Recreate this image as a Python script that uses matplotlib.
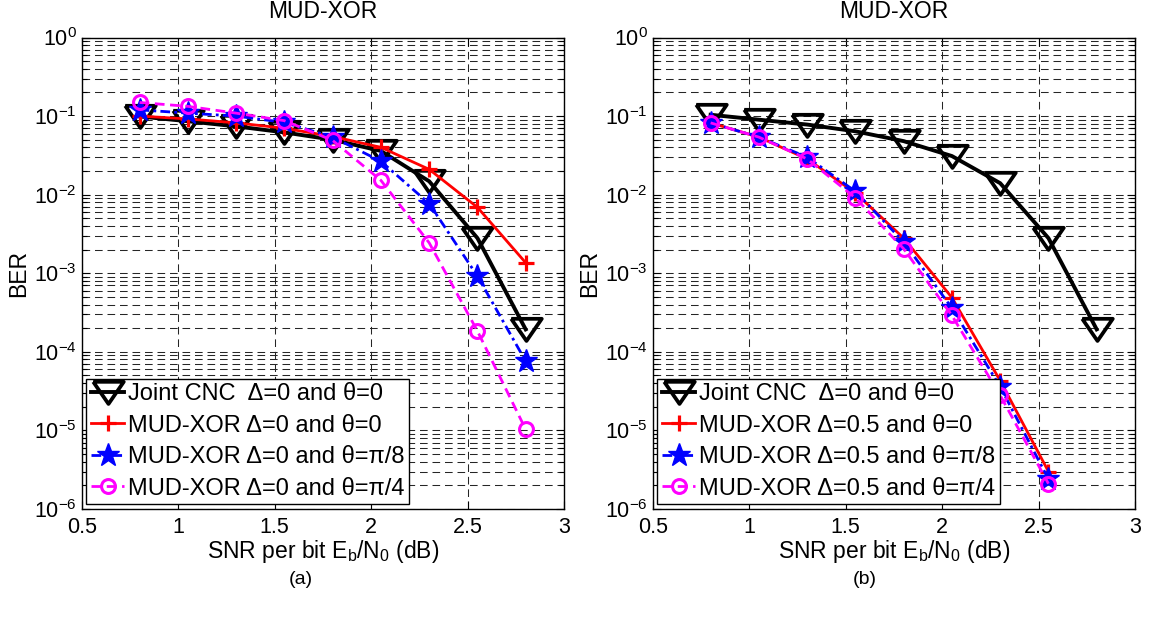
import numpy as np
import matplotlib
matplotlib.use('Agg')
import matplotlib.pyplot as plt
from matplotlib.ticker import LogLocator, NullFormatter, FixedLocator

plt.rcParams['font.family'] = ['Liberation Sans', 'DejaVu Sans']
plt.rcParams['mathtext.fontset'] = 'custom'
plt.rcParams['mathtext.rm'] = 'Liberation Sans'
plt.rcParams['mathtext.it'] = 'Liberation Sans'
plt.rcParams['axes.unicode_minus'] = False
plt.rcParams['lines.scale_dashes'] = False

# SNR per bit (dB)
snr = [0.8, 1.05, 1.3, 1.55, 1.8, 2.05, 2.3, 2.55, 2.8]
snr_b = [0.8, 1.05, 1.3, 1.55, 1.8, 2.05, 2.3, 2.55]

# (a) Delta = 0
cnc_a = [0.099, 0.086, 0.074, 0.062, 0.050, 0.036, 0.0148, 2.8e-3, 1.93e-4]
xor0_a = [0.100, 0.092, 0.082, 0.070, 0.055, 0.040, 0.021, 6.9e-3, 1.36e-3]
xor8_a = [0.120, 0.109, 0.100, 0.083, 0.054, 0.0266, 7.7e-3, 9.2e-4, 7.6e-5]
xor4_a = [0.149, 0.133, 0.109, 0.0874, 0.049, 0.0152, 2.44e-3, 1.84e-4, 1.03e-5]

# (b) Delta = 0.5
cnc_b = [0.104, 0.090, 0.078, 0.064, 0.048, 0.031, 0.014, 2.8e-3, 1.93e-4]
xor0_b = [0.082, 0.054, 0.0285, 0.0105, 2.8e-3, 4.9e-4, 4.3e-5, 3.0e-6]
xor8_b = [0.082, 0.054, 0.030, 0.011, 2.5e-3, 3.6e-4, 3.6e-5, 2.4e-6]
xor4_b = [0.082, 0.054, 0.0285, 0.0091, 2.05e-3, 2.9e-4, 2.8e-5, 2.1e-6]

labels_a = ['Joint CNC  \u0394=0 and \u03b8=0', 'MUD-XOR \u0394=0 and \u03b8=0',
            'MUD-XOR \u0394=0 and \u03b8=\u03c0/8', 'MUD-XOR \u0394=0 and \u03b8=\u03c0/4']
labels_b = ['Joint CNC  \u0394=0 and \u03b8=0', 'MUD-XOR \u0394=0.5 and \u03b8=0',
            'MUD-XOR \u0394=0.5 and \u03b8=\u03c0/8', 'MUD-XOR \u0394=0.5 and \u03b8=\u03c0/4']

# wide down-triangle like matlab's
tri = [(-1, 0.7), (1, 0.7), (0, -0.75), (-1, 0.7)]

fig = plt.figure(figsize=(11.49, 6.2), dpi=100)
W, H = 1149, 620
ax1 = fig.add_axes([81.7 / W, (H - 509) / H, 482.6 / W, 471.5 / H])
ax2 = fig.add_axes([652.7 / W, (H - 509) / H, 482.6 / W, 471.5 / H])


def draw(ax, xa, xb, cnc, x0, x8, x4, labels):
    ax.plot(xa, cnc, color='k', lw=2.8, marker=tri, ms=22, mfc='none', mew=2.7, label=labels[0])
    ax.plot(xb, x0, color='r', lw=2.0, marker='+', ms=12, mew=2.3, label=labels[1])
    ax.plot(xb, x8, color='b', lw=2.0, ls=(0, (7, 3, 2, 3)), marker='*', ms=17, label=labels[2])
    ax.plot(xb, x4, color='#ff00ff', lw=2.0, ls=(0, (7, 4)), marker='o', ms=10, mfc='none',
            mew=2.2, label=labels[3])
    ax.set_yscale('log')
    ax.set_xlim(0.5, 3)
    ax.set_ylim(1e-6, 1)
    ax.xaxis.set_major_locator(FixedLocator([0.5, 1, 1.5, 2, 2.5, 3]))
    ax.set_xticklabels(['0.5', '1', '1.5', '2', '2.5', '3'])
    ax.yaxis.set_major_locator(LogLocator(base=10, numticks=10))
    ax.yaxis.set_minor_locator(LogLocator(base=10, subs=np.arange(2, 10), numticks=20))
    ax.yaxis.set_minor_formatter(NullFormatter())
    ax.grid(True, which='major', color='0.15', lw=0.75, ls=(0, (5.5, 3.5)))
    ax.grid(True, which='minor', axis='y', color='0.15', lw=0.75, ls=(0, (5.5, 3.5)))
    ax.tick_params(which='both', direction='in', top=True, right=True, labelsize=15.5, width=0.8)
    ax.tick_params(axis='x', which='major', pad=6)
    ax.tick_params(which='major', length=6)
    ax.tick_params(which='minor', length=3.5)
    for s in ax.spines.values():
        s.set_linewidth(1.0)
    ax.set_title('MUD-XOR', fontsize=16.5, pad=14)
    ax.set_xlabel('SNR per bit E$_\\mathregular{b}$/N$_\\mathregular{0}$ (dB)', fontsize=16.5, labelpad=0)
    ax.set_ylabel('BER', fontsize=16.5, labelpad=3)
    ax.legend(loc='lower left', fontsize=17, frameon=True, fancybox=False, edgecolor='k',
              framealpha=1, borderaxespad=0.2, borderpad=0.2, labelspacing=0.4,
              handlelength=1.4, handletextpad=0.15)


draw(ax1, snr, snr, cnc_a, xor0_a, xor8_a, xor4_a, labels_a)
draw(ax2, snr, snr_b, cnc_b, xor0_b, xor8_b, xor4_b, labels_b)
for ax in (ax1, ax2):
    ax.get_legend().get_frame().set_linewidth(1.0)

fig.text(301 / W, 1 - 580 / H, '(a)', ha='center', va='center', fontsize=14)
fig.text(865 / W, 1 - 580 / H, '(b)', ha='center', va='center', fontsize=14)

fig.savefig('out.png', dpi=100)
